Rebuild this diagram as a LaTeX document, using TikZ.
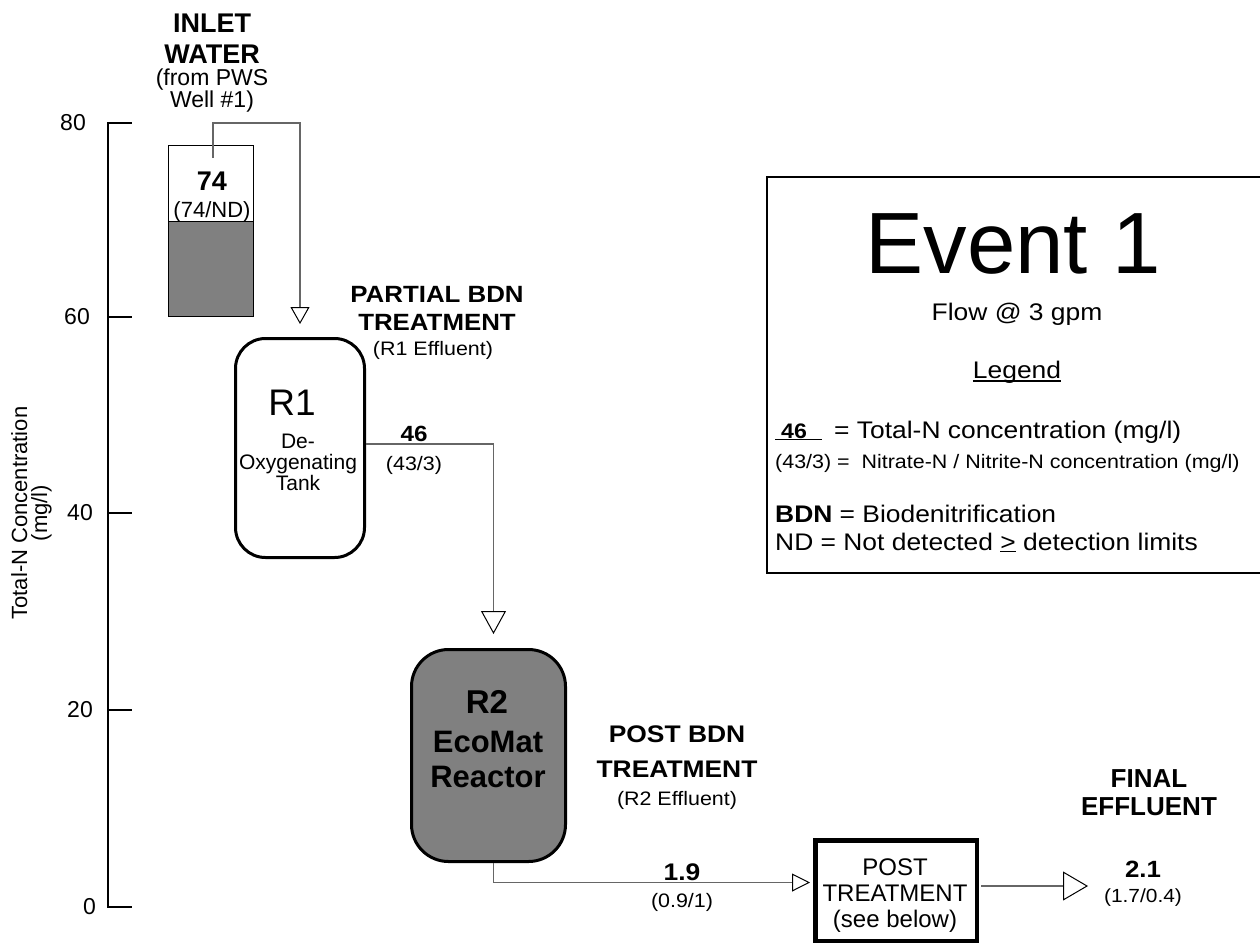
\documentclass[tikz,border=0pt]{standalone}
\usepackage{fontspec}
\setmainfont{Liberation Sans}
\newfontfamily\wide{Liberation Sans}[FakeStretch=1.1]
\usetikzlibrary{arrows.meta,calc}
\newcommand{\fsz}[2]{\fontsize{#1pt}{#2pt}\selectfont}

\begin{document}
\begin{tikzpicture}[
  x=1pt,y=-1pt,
  lbl/.style={inner sep=0pt,anchor=base,align=center},
  tank/.style={draw,line width=1pt,minimum width=85pt,minimum height=171pt,inner sep=0pt},
  reactor/.style={draw,line width=3pt,inner sep=0pt},
  postbox/.style={draw,line width=4.5pt,inner sep=0pt,minimum width=161.5pt,minimum height=100.5pt},
  flow/.style={draw=black!60,line width=1.2pt},
  flowtip/.style 2 args={-{Triangle[open,length=#1pt,width=#2pt,color=black,line width=1pt]}}
]
  \useasboundingbox (0,0) rectangle (1260,945);

  \draw[line width=2pt] (108,122) -- (108,908);
  \foreach \v/\ty/\lx in {80/123/86,60/317/90,40/513/93,20/710/93,0/907/96}{
    \draw[line width=1.2pt] (108,\ty) -- (132,\ty);
    \node[font=\fsz{23}{23},inner sep=0pt,anchor=east] (tick\v) at (\lx,\ty) {\v};
  }
  \node[lbl,rotate=90,font=\fsz{22}{20}] (ytitle) at (47,513) {Total-N Concentration\\(mg/l)};

  \draw[fill=gray,line width=0.8pt] (168.5,221) rectangle (253.5,316.5);
  \node[tank] (inlet) at (211,231) {};
  \node[lbl,font=\bfseries\fsz{27}{31}] (inletlbl) at (212,63) {INLET\\WATER};
  \node[lbl,font=\fsz{23}{22}] (inletsrc) at (212,107) {(from PWS\\Well \#1)};
  \node[lbl,font=\bfseries\fsz{27}{27}] (inletval) at (212,190) {74};
  \node[lbl,font=\fsz{22}{22}] (inletsplit) at (212,217) {(74/ND)};
  \coordinate (inlettap) at (213,158);

  \node[reactor,rounded corners=30pt,minimum width=129pt,minimum height=219pt] (r1) at (300,448) {};
  \node[lbl,font=\fsz{37}{37}] (r1name) at (292,415) {R1};
  \node[lbl,font=\fsz{21}{21}] (r1desc) at (298,490) {De-\\Oxygenating\\Tank};

  \node[reactor,fill=gray,rounded corners=37pt,minimum width=154pt,minimum height=212pt] (r2) at (488.5,755.5) {};
  \node[lbl,font=\bfseries\fsz{33}{33}] (r2name) at (487,713) {R2};
  \node[lbl,font=\bfseries\fsz{31}{35}] (r2desc) at (488,787) {EcoMat\\Reactor};

  \node[postbox] (post) at (896,890.5) {};
  \node[lbl,font=\fsz{24}{26}] (posttext) at (895,927) {POST\\TREATMENT\\(see below)};
  \coordinate (outlet) at (1088,886);

  \draw[flow,flowtip={17}{19}] (inlettap) -- (inlettap |- 0,123) -| ([yshift=13pt]r1.north);
  \draw[flow,flowtip={23}{25}] ([yshift=4pt]r1.east) -| ([xshift=5pt,yshift=14pt]r2.north);
  \draw[flow,flowtip={18}{18}] ([xshift=5pt]r2.south) |- ([xshift=-3pt,yshift=8pt]post.west);
  \draw[flow,flowtip={25}{29}] ([xshift=2.25pt,yshift=4.5pt]post.east) -- (outlet);

  \node[lbl,font=\wide\bfseries\fsz{22}{22}] (r1val) at (414,441) {46};
  \node[lbl,font=\wide\fsz{19.5}{20}] (r1split) at (414,470) {(43/3)};
  \node[lbl,font=\wide\bfseries\fsz{23.5}{28}] (partlbl) at (437,330) {PARTIAL BDN\\TREATMENT};
  \node[lbl,font=\wide\fsz{19.5}{20}] (partsrc) at (433,355) {(R1 Effluent)};
  \node[lbl,font=\wide\bfseries\fsz{24}{35}] (postlbl) at (677,777) {POST BDN\\TREATMENT};
  \node[lbl,font=\wide\fsz{19.5}{20}] (postsrc) at (677,805) {(R2 Effluent)};
  \node[lbl,font=\wide\bfseries\fsz{24}{24}] (r2val) at (682,880) {1.9};
  \node[lbl,font=\wide\fsz{19.5}{20}] (r2split) at (682,907) {(0.9/1)};
  \node[lbl,font=\bfseries\fsz{26}{28}] (finallbl) at (1149,815) {FINAL\\EFFLUENT};
  \node[lbl,font=\wide\bfseries\fsz{23.5}{24}] (finalval) at (1143,877) {2.1};
  \node[lbl,font=\wide\fsz{19}{20}] (finalsplit) at (1143,902) {(1.7/0.4)};

  \draw[line width=1.5pt] (1262,177) -| (767,573) -- (1262,573);
  \node[lbl,font=\fsz{87}{87}] (event) at (1013,273) {Event 1};
  \node[lbl,font=\wide\fsz{24}{24}] (flowrate) at (1017,320) {Flow @ 3 gpm};
  \node[lbl,font=\wide\fsz{24}{24}] (legend) at (1017,378) {Legend};
  \draw[line width=1.2pt] ([yshift=-3pt]legend.base west) -- ([yshift=-3pt]legend.base east);
  \node[lbl,anchor=base west,font=\wide\bfseries\fsz{21}{21}] (legval) at (775,438) {\underline{\hspace{6pt}46\hspace{15pt}}};
  \node[lbl,anchor=base west,font=\wide\fsz{24}{24}] (legtotal) at (834,438) {= Total-N concentration (mg/l)};
  \node[lbl,anchor=base west,font=\wide\fsz{19.5}{20}] (legsplit) at (775,468) {(43/3) = \ Nitrate-N / Nitrite-N concentration (mg/l)};
  \node[lbl,anchor=base west,align=left,font=\wide\fsz{24}{28}] (legabbr) at (775,550) {\textbf{BDN} = Biodenitrification\\ND = Not detected \underline{>} detection limits};
\end{tikzpicture}
\end{document}
